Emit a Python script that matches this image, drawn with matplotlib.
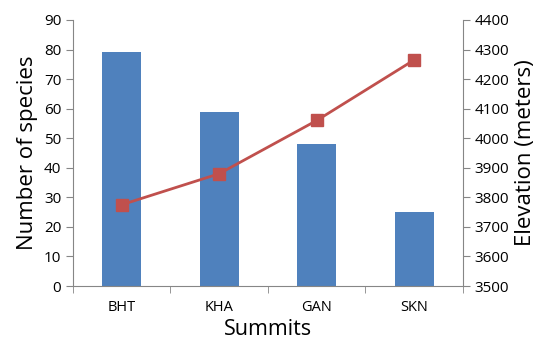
import numpy as np
import matplotlib.pyplot as plt

plt.rcParams['font.family'] = ['Open Sans', 'DejaVu Sans']

summits = ['BHT', 'KHA', 'GAN', 'SKN']
species = [79, 59, 48, 25]
elevation = [3775, 3880, 4060, 4265]

x = np.arange(len(summits))
grey = '#868686'

fig = plt.figure(figsize=(5.39, 3.44), dpi=100)
ax = fig.add_axes([0.1354, 0.1686, 0.7236, 0.7733])

ax.bar(x, species, width=0.4, color='#4F81BD', zorder=2)
ax.set_xlim(-0.5, len(summits) - 0.5)
ax.set_ylim(0, 90)
ax.set_yticks(np.arange(0, 91, 10))
ax.set_xticks(x)
ax.set_xticklabels(summits, fontsize=10.5)
ax.set_xticks(np.arange(-0.5, len(summits)), minor=True)
ax.tick_params(axis='x', which='major', length=0, pad=10)
ax.tick_params(axis='x', which='minor', length=5, color=grey, direction='out')
ax.tick_params(axis='y', length=5, color=grey, labelsize=11, direction='out')
ax.set_ylabel('Number of species', fontsize=16, labelpad=4)
ax.set_xlabel('Summits', fontsize=15.5, labelpad=3)

ax2 = ax.twinx()
ax2.plot(x, elevation, color='#C0504D', lw=2, marker='s', markersize=9, zorder=3)
ax2.set_ylim(3500, 4400)
ax2.set_yticks(np.arange(3500, 4401, 100))
ax2.tick_params(axis='y', length=5, color=grey, labelsize=11, direction='out')
ax2.set_ylabel('Elevation (meters)', fontsize=16, labelpad=4)

for a in (ax, ax2):
    a.spines['top'].set_visible(False)
    for s in ('left', 'right', 'bottom'):
        a.spines[s].set_color(grey)
ax.spines['right'].set_visible(False)
ax2.spines['left'].set_visible(False)
ax2.spines['bottom'].set_visible(False)

fig.savefig('out.png', dpi=100)
